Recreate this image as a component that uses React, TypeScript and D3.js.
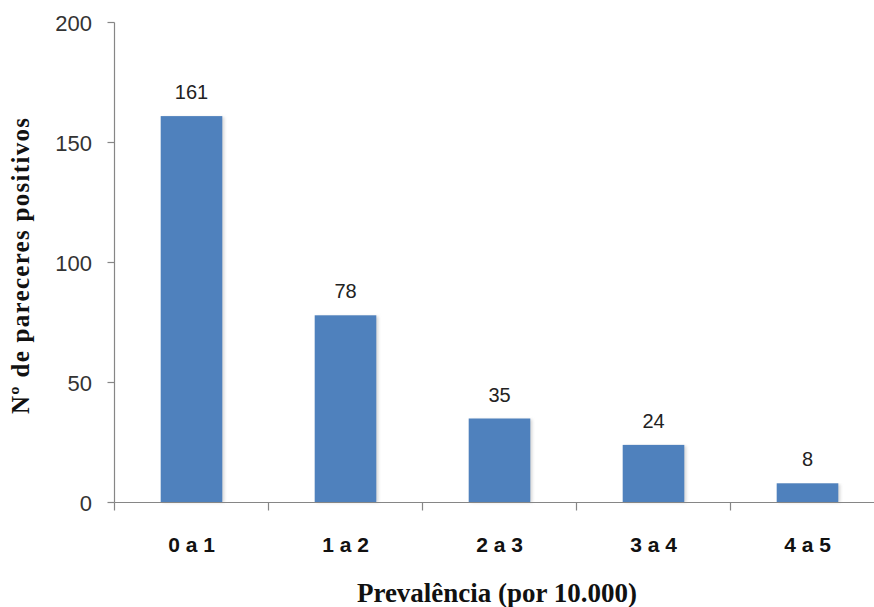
import React from "react";
import * as d3 from "d3";

const categories = ["0 a 1", "1 a 2", "2 a 3", "3 a 4", "4 a 5"];
const values = [161, 78, 35, 24, 8];
const yTicks = [0, 50, 100, 150, 200];

export default function App() {
  const W = 874, H = 607;
  const x0 = 114.5, y0 = 502.5;
  const x = d3.scaleBand<string>().domain(categories).range([x0, x0 + 154 * 5]).paddingInner(0.6).paddingOuter(0.3);
  const y = d3.scaleLinear().domain([0, 200]).range([y0, 22.5]);
  const step = x.step();
  const bounds = d3.range(categories.length + 1).map((i) => x0 + i * step);
  return (
    <svg width={W} height={H} style={{ position: "absolute", left: 0, top: 0, background: "#fff" }}>
      <defs>
        <filter id="sh" x="-20%" y="-5%" width="150%" height="115%">
          <feGaussianBlur stdDeviation="1.5" />
        </filter>
      </defs>
      {categories.map((c, i) => (
        <g key={c}>
          <rect x={(x(c) as number) + 2} y={y(values[i]) + 1} width={x.bandwidth()} height={y0 - y(values[i]) - 1} fill="#d8d8d8" filter="url(#sh)" />
          <rect x={x(c)} y={y(values[i])} width={x.bandwidth()} height={y0 - y(values[i])} fill="#4F81BD" />
          <text x={(x(c) as number) + x.bandwidth() / 2} y={y(values[i]) - 17} textAnchor="middle" fontFamily="Liberation Sans, Arial, sans-serif" fontSize={20} fill="#222">{values[i]}</text>
          <text x={(x(c) as number) + x.bandwidth() / 2} y={552} textAnchor="middle" fontFamily="Liberation Sans, Arial, sans-serif" fontWeight="bold" fontSize={21} fill="#111">{c}</text>
        </g>
      ))}
      <line x1={x0} x2={x0} y1={y(200)} y2={y0} stroke="#868686" strokeWidth={1.2} />
      <line x1={x0} x2={W} y1={y0} y2={y0} stroke="#868686" strokeWidth={1.2} />
      {yTicks.map((t) => (
        <g key={t}>
          <line x1={x0 - 7} x2={x0} y1={y(t)} y2={y(t)} stroke="#868686" strokeWidth={1.2} />
          <text x={92} y={y(t) + 8} textAnchor="end" fontFamily="Liberation Sans, Arial, sans-serif" fontSize={22} fill="#333">{t}</text>
        </g>
      ))}
      {bounds.map((b, i) => (
        <line key={i} x1={b} x2={b} y1={y0} y2={y0 + 8} stroke="#868686" strokeWidth={1.2} />
      ))}
      <text x={497} y={602} textAnchor="middle" fontFamily="Liberation Serif, Times New Roman, serif" fontWeight="bold" fontSize={27} fill="#111">Prevalência (por 10.000)</text>
      <text transform={`translate(29,${266}) rotate(-90)`} textAnchor="middle" fontFamily="Liberation Serif, Times New Roman, serif" fontWeight="bold" fontSize={25} fill="#111" textLength={296} lengthAdjust="spacing">Nº de pareceres positivos</text>
    </svg>
  );
}
